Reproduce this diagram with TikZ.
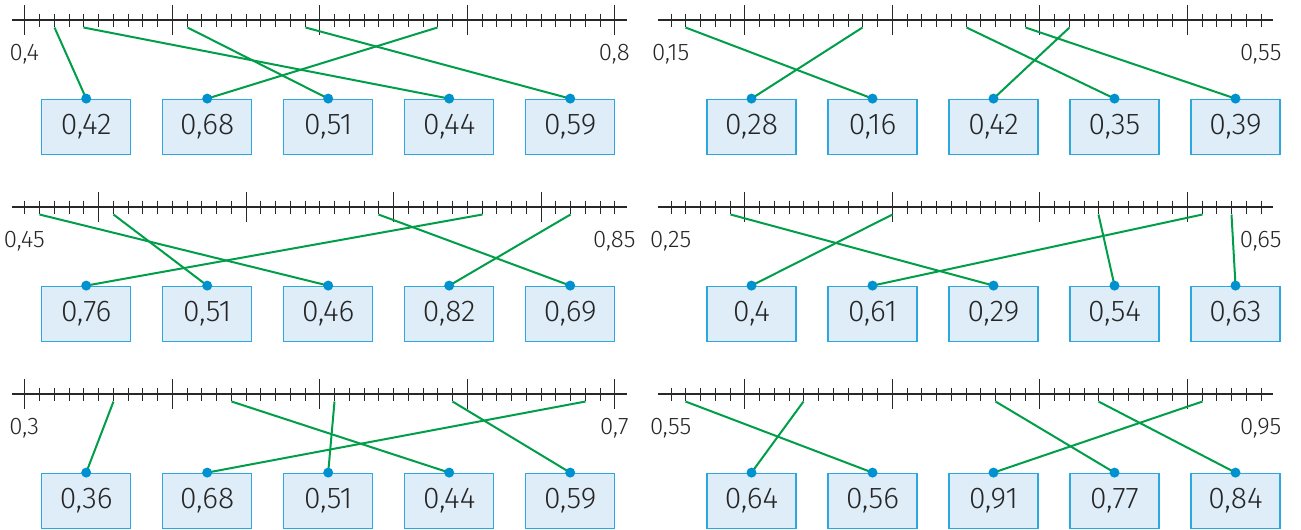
\documentclass[tikz,border=0pt]{standalone}
\usepackage{fontspec}
\setmainfont{Fira Sans}[UprightFont=* Light]

\definecolor{linkgreen}{RGB}{0,158,73}
\definecolor{dotblue}{RGB}{0,146,207}
\definecolor{boxfill}{RGB}{223,237,248}
\definecolor{boxline}{RGB}{45,168,222}
\definecolor{axisgray}{RGB}{40,40,40}

\tikzset{
  axis/.style={axisgray, line width=1.1pt},
  numbox/.style={draw=boxline, fill=boxfill, line width=1.2pt,
    minimum width=89pt, minimum height=55pt, inner sep=0pt,
    text=black!85, font=\fontsize{30}{30}\selectfont},
  endlabel/.style={text=black!85, font=\fontsize{24}{24}\selectfont},
  link/.style={linkgreen, line width=2pt},
  bluedot/.style={fill=dotblue}
}

\begin{document}
\begin{tikzpicture}[x=1pt,y=-1pt]
  \useasboundingbox (0,0) rectangle (1301,530);

  % name / axis x / first box x / axis y / first value / first long tick / end labels / values
  \foreach \p/\px/\bx/\py/\lo/\first/\lft/\rgt/\vals in {
      a/24.3/86.2/20/0.40/0/{0,4}/{0,8}/{0.42/{0,42},0.68/{0,68},0.51/{0,51},0.44/{0,44},0.59/{0,59}},
      b/670.7/751.5/20/0.15/5/{0,15}/{0,55}/{0.28/{0,28},0.16/{0,16},0.42/{0,42},0.35/{0,35},0.39/{0,39}},
      c/24.3/86.2/207/0.45/5/{0,45}/{0,85}/{0.76/{0,76},0.51/{0,51},0.46/{0,46},0.82/{0,82},0.69/{0,69}},
      d/670.7/751.5/207/0.25/5/{0,25}/{0,65}/{0.40/{0,4},0.61/{0,61},0.29/{0,29},0.54/{0,54},0.63/{0,63}},
      e/24.3/86.2/394/0.30/0/{0,3}/{0,7}/{0.36/{0,36},0.68/{0,68},0.51/{0,51},0.44/{0,44},0.59/{0,59}},
      f/670.7/751.5/394/0.55/5/{0,55}/{0,95}/{0.64/{0,64},0.56/{0,56},0.91/{0,91},0.77/{0,77},0.84/{0,84}}} {

    % number line with ticks, long ones on the tenths
    \draw[axis] (\px-12.5,\py) -- (\px+602.5,\py);
    \foreach \k in {0,...,40} {
      \pgfmathsetmacro\tx{round(\px+14.75*\k)+0.5}
      \pgfmathsetmacro\up{mod(\k+10-\first,10)==0 ? 15 : 6.5}
      \pgfmathsetmacro\dn{mod(\k+10-\first,10)==0 ? 15 : 7}
      \draw[axis] (\tx,\py-\up) -- (\tx,\py+\dn);
    }
    \node[endlabel] (\p-lo) at (\px,\py+34) {\lft};
    \node[endlabel] (\p-hi) at (\px+590,\py+34) {\rgt};

    % boxes linked to their place on the line
    \foreach \v/\t [count=\i] in \vals {
      \coordinate (\p-t\i) at ({round(\px+1475*(\v-\lo))+0.5},\py+7.5);
      \node[numbox] (\p-\i) at (\bx+121*\i-121,\py+106.7) {\t};
      \draw[link] (\p-t\i) -- (\p-\i.north);
      \fill[bluedot] (\p-\i.north) circle (5pt);
    }
  }
\end{tikzpicture}
\end{document}
